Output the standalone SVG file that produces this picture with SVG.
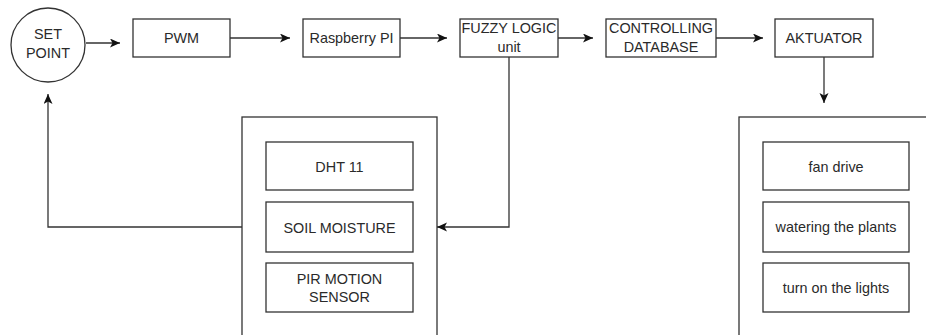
<svg xmlns="http://www.w3.org/2000/svg" width="926" height="335" viewBox="0 0 926 335">
<style>
.b{fill:#fff;stroke:#333;stroke-width:1.3}
.c{fill:none;stroke:#333;stroke-width:1.3}
text{font-family:"Liberation Sans",Arial,sans-serif;font-size:14.4px;fill:#2a2a2a;text-anchor:middle}
</style>
<defs>
<marker id="ar" markerUnits="userSpaceOnUse" markerWidth="12" markerHeight="10" refX="10" refY="4.5" orient="auto">
<path d="M0,0 L10,4.5 L0,9 L2.5,4.5 z" fill="#111"/>
</marker>
</defs>
<rect width="926" height="335" fill="#fff"/>
<g id="sensors-container"><rect class="b" x="242" y="117" width="195" height="240"/></g>
<g id="actuators-container"><rect class="b" x="739" y="117" width="200" height="240"/></g>
<g id="connectors">
<line class="c" x1="86" y1="43" x2="120" y2="43" marker-end="url(#ar)"/>
<line class="c" x1="230" y1="38" x2="290" y2="38" marker-end="url(#ar)"/>
<line class="c" x1="400" y1="38" x2="447" y2="38" marker-end="url(#ar)"/>
<line class="c" x1="558" y1="38" x2="593" y2="38" marker-end="url(#ar)"/>
<line class="c" x1="716" y1="38" x2="763" y2="38" marker-end="url(#ar)"/>
<line class="c" x1="824" y1="57" x2="824" y2="103" marker-end="url(#ar)"/>
<polyline class="c" points="509,57 509,227 437,227" marker-end="url(#ar)"/>
<polyline class="c" points="242,227 48,227 48,94" marker-end="url(#ar)"/>
</g>
<g id="set-point"><circle class="b" cx="48" cy="45" r="37"/><text x="48" y="39">SET</text><text x="48" y="57.5">POINT</text></g>
<g id="pwm"><rect class="b" x="133" y="19" width="97" height="38"/><text x="181.5" y="43">PWM</text></g>
<g id="raspberry"><rect class="b" x="303" y="19" width="97" height="38"/><text x="351.5" y="43">Raspberry PI</text></g>
<g id="fuzzy"><rect class="b" x="460" y="19" width="98" height="38"/><text x="509" y="33">FUZZY LOGIC</text><text x="509" y="51.5">unit</text></g>
<g id="controlling"><rect class="b" x="606" y="19" width="110" height="38"/><text x="661" y="33">CONTROLLING</text><text x="661" y="51.5">DATABASE</text></g>
<g id="aktuator"><rect class="b" x="775" y="19" width="98" height="38"/><text x="824" y="43">AKTUATOR</text></g>
<g id="dht11"><rect class="b" x="266" y="142" width="147" height="48"/><text x="339.5" y="171.5">DHT 11</text></g>
<g id="soil"><rect class="b" x="266" y="202" width="147" height="50"/><text x="339.5" y="232.5">SOIL MOISTURE</text></g>
<g id="pir"><rect class="b" x="266" y="263" width="147" height="49"/><text x="339.5" y="284">PIR MOTION</text><text x="339.5" y="302">SENSOR</text></g>
<g id="fan"><rect class="b" x="763" y="142" width="146" height="48"/><text x="836" y="171.5">fan drive</text></g>
<g id="watering"><rect class="b" x="763" y="202" width="146" height="50"/><text x="836" y="232">watering the plants</text></g>
<g id="lights"><rect class="b" x="763" y="263" width="146" height="49"/><text x="836" y="292.5">turn on the lights</text></g>
</svg>
